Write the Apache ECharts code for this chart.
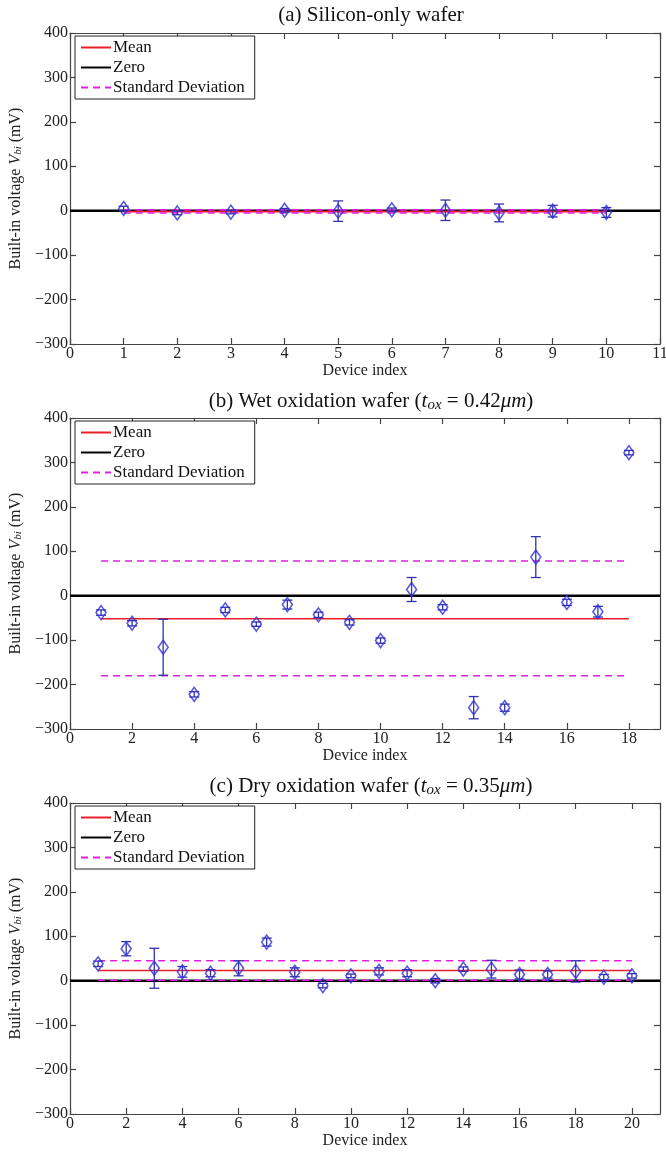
<!DOCTYPE html>
<html>
<head>
<meta charset="utf-8">
<script src="https://cdn.jsdelivr.net/npm/echarts@6/dist/echarts.min.js"></script>
<style>
  html, body { margin: 0; padding: 0; background: #fff; }
  #chart { width: 666px; height: 1152px; }
</style>
</head>
<body>
<div id="chart"></div>
<script>
// panel (a) silicon-only
var devA = [1, 2, 3, 4, 5, 6, 7, 8, 9, 10];
var voltA = [5, -5, -3, 1, -1, 2, 1, -5, -1, -4];
var errA = [5, 4, 4, 4, 23, 4, 23, 20, 13, 11];
var meanA = -2, stdHiA = 2, stdLoA = -5;

// panel (b) wet oxidation
var devB = [1, 2, 3, 4, 5, 6, 7, 8, 9, 10, 11, 12, 13, 14, 15, 16, 17, 18];
var voltB = [-38, -62, -116, -222, -32, -64, -20, -43, -60, -101, 14, -26, -252, -252, 87, -15, -36, 322];
var errB = [6, 6, 63, 6, 6, 5, 10, 6, 6, 6, 27, 6, 25, 8, 46, 7, 12, 5];
var meanB = -52, stdHiB = 78, stdLoB = -180;

// panel (c) dry oxidation
var devC = [1, 2, 3, 4, 5, 6, 7, 8, 9, 10, 11, 12, 13, 14, 15, 16, 17, 18, 19, 20];
var voltC = [38, 72, 28, 20, 17, 28, 87, 19, -11, 11, 21, 17, 0, 26, 26, 14, 14, 21, 8, 11];
var errC = [6, 16, 45, 12, 8, 17, 9, 10, 5, 4, 8, 8, 5, 5, 20, 10, 8, 24, 6, 5];
var meanC = 23, stdHiC = 45, stdLoC = 1;

// axis ranges
var yTicks = { min: -300, max: 400, interval: 100 };
var xRanges = [
    { max: 11, interval: 1, maxLabel: true },
    { max: 19, interval: 2, maxLabel: false },
    { max: 21, interval: 2, maxLabel: false }
];

var FONT = 'Liberation Serif';
var BLUE = '#3030d8';
var AXIS = '#444';

var panels = [
    { dev: devA, volt: voltA, err: errA, mean: meanA, hi: stdHiA, lo: stdLoA, top: 33,
      title: '(a) Silicon-only wafer' },
    { dev: devB, volt: voltB, err: errB, mean: meanB, hi: stdHiB, lo: stdLoB, top: 418,
      title: '(b) Wet oxidation wafer ({i|t}{s|ox} = 0.42{i|μm})' },
    { dev: devC, volt: voltC, err: errC, mean: meanC, hi: stdHiC, lo: stdLoC, top: 803,
      title: '(c) Dry oxidation wafer ({i|t}{s|ox} = 0.35{i|μm})' }
];

var titleRich = {
    i: { fontFamily: FONT, fontSize: 21, fontStyle: 'italic', color: '#111' },
    s: { fontFamily: FONT, fontSize: 15, fontStyle: 'italic', color: '#111', padding: [8, 0, 0, 0] }
};

var option = {
    backgroundColor: '#fff',
    animation: false,
    title: [], grid: [], xAxis: [], yAxis: [], legend: [], series: []
};

function minus(v) { return String(v).replace('-', '\u2212'); }

function axisLineOpt() {
    return { show: true, onZero: false, lineStyle: { color: AXIS, width: 1.2 } };
}
function axisTickOpt() {
    return { show: true, inside: true, length: 6, interval: 0, lineStyle: { color: AXIS, width: 1.2 } };
}

panels.forEach(function (p, k) {
    var n = p.dev.length;
    var first = p.dev[0], last = p.dev[n - 1];
    var xr = xRanges[k];

    option.title.push({
        text: p.title,
        left: 366, top: p.top - 33, textAlign: 'center',
        textStyle: { fontFamily: FONT, fontSize: 21, fontWeight: 'normal', color: '#111', rich: titleRich }
    });
    option.grid.push({ left: 70, width: 590, top: p.top, height: 311, outerBoundsMode: 'none', containLabel: false });

    // bottom + top x axes
    option.xAxis.push({
        gridIndex: k, type: 'value', min: 0, max: xr.max, interval: xr.interval,
        name: 'Device index', nameLocation: 'middle', nameGap: 19,
        nameTextStyle: { fontFamily: FONT, fontSize: 16, color: '#222' },
        axisLine: axisLineOpt(), axisTick: axisTickOpt(),
        axisLabel: { fontFamily: FONT, fontSize: 16, color: '#222', margin: 2, showMaxLabel: xr.maxLabel },
        splitLine: { show: false }
    });
    option.xAxis.push({
        gridIndex: k, type: 'value', position: 'top', min: 0, max: xr.max, interval: xr.interval,
        axisLine: axisLineOpt(), axisTick: axisTickOpt(),
        axisLabel: { show: false }, splitLine: { show: false }
    });
    // left + right y axes
    option.yAxis.push({
        gridIndex: k, type: 'value', min: yTicks.min, max: yTicks.max, interval: yTicks.interval,
        name: '{n|Built-in voltage }{v|V}{s|bi}{n| (mV)}', nameLocation: 'middle', nameGap: 44,
        nameTextStyle: {
            rich: {
                n: { fontFamily: FONT, fontSize: 16, color: '#222' },
                v: { fontFamily: FONT, fontSize: 16, fontStyle: 'italic', color: '#222' },
                s: { fontFamily: FONT, fontSize: 11, fontStyle: 'italic', color: '#222', padding: [5, 0, 0, 0] }
            }
        },
        axisLine: axisLineOpt(), axisTick: axisTickOpt(),
        axisLabel: { fontFamily: FONT, fontSize: 16, color: '#222', margin: 2, formatter: minus },
        splitLine: { show: false }
    });
    option.yAxis.push({
        gridIndex: k, type: 'value', position: 'right', min: yTicks.min, max: yTicks.max, interval: yTicks.interval,
        axisLine: axisLineOpt(), axisTick: axisTickOpt(),
        axisLabel: { show: false }, splitLine: { show: false }
    });

    var xi = k * 2, yi = k * 2;
    var pts = p.dev.map(function (d, i) { return [d, p.volt[i]]; });
    var bars = p.dev.map(function (d, i) { return [d, p.volt[i] - p.err[i], p.volt[i] + p.err[i]]; });

    option.series.push({
        name: 'Zero', type: 'line', xAxisIndex: xi, yAxisIndex: yi, symbol: 'none', z: 3,
        data: [[0, 0], [xr.max, 0]], lineStyle: { color: '#000', width: 2.5 }, itemStyle: { color: '#000' }
    });
    option.series.push({
        name: 'Mean', type: 'line', xAxisIndex: xi, yAxisIndex: yi, symbol: 'none', z: 4,
        data: [[first, p.mean], [last, p.mean]], lineStyle: { color: '#e8202a', width: 1.6 }, itemStyle: { color: '#e8202a' }
    });
    option.series.push({
        name: 'Standard Deviation', type: 'line', xAxisIndex: xi, yAxisIndex: yi, symbol: 'none', z: 4,
        data: [[first, p.hi], [last, p.hi]], lineStyle: { color: '#e020e0', width: 1.6, type: [7, 5] }, itemStyle: { color: '#e020e0' }
    });
    option.series.push({
        name: 'Standard Deviation', type: 'line', xAxisIndex: xi, yAxisIndex: yi, symbol: 'none', z: 4,
        data: [[first, p.lo], [last, p.lo]], lineStyle: { color: '#e020e0', width: 1.6, type: [7, 5] }, itemStyle: { color: '#e020e0' }
    });
    // error bars
    option.series.push({
        type: 'custom', xAxisIndex: xi, yAxisIndex: yi, z: 5,
        data: bars,
        renderItem: function (params, api) {
            var lo = api.coord([api.value(0), api.value(1)]);
            var hi = api.coord([api.value(0), api.value(2)]);
            var w = 5;
            var st = { stroke: '#3030b0', lineWidth: 1.3 };
            return {
                type: 'group',
                children: [
                    { type: 'line', shape: { x1: lo[0], y1: lo[1], x2: hi[0], y2: hi[1] }, style: st },
                    { type: 'line', shape: { x1: lo[0] - w, y1: lo[1], x2: lo[0] + w, y2: lo[1] }, style: st },
                    { type: 'line', shape: { x1: hi[0] - w, y1: hi[1], x2: hi[0] + w, y2: hi[1] }, style: st }
                ]
            };
        }
    });
    option.series.push({
        type: 'scatter', xAxisIndex: xi, yAxisIndex: yi, z: 6,
        symbol: 'diamond', symbolSize: [10, 14], data: pts,
        itemStyle: { color: 'rgba(0,0,0,0)', borderColor: BLUE, borderWidth: 1.6 }
    });

    option.legend.push({
        data: ['Mean', 'Zero', 'Standard Deviation'],
        orient: 'vertical', left: 75, top: p.top + 3,
        backgroundColor: '#fff', borderColor: '#222', borderWidth: 1, borderRadius: 0,
        padding: [3, 10, 3, 5], itemGap: 3, itemWidth: 30, itemHeight: 15,
        selectedMode: false,
        itemStyle: { opacity: 0 },
        textStyle: { fontFamily: FONT, fontSize: 17, color: '#111', padding: [0, 0, 0, -3] }
    });
});

var chart = echarts.init(document.getElementById('chart'), null, { renderer: 'canvas' });
chart.setOption(option);
</script>
</body>
</html>
